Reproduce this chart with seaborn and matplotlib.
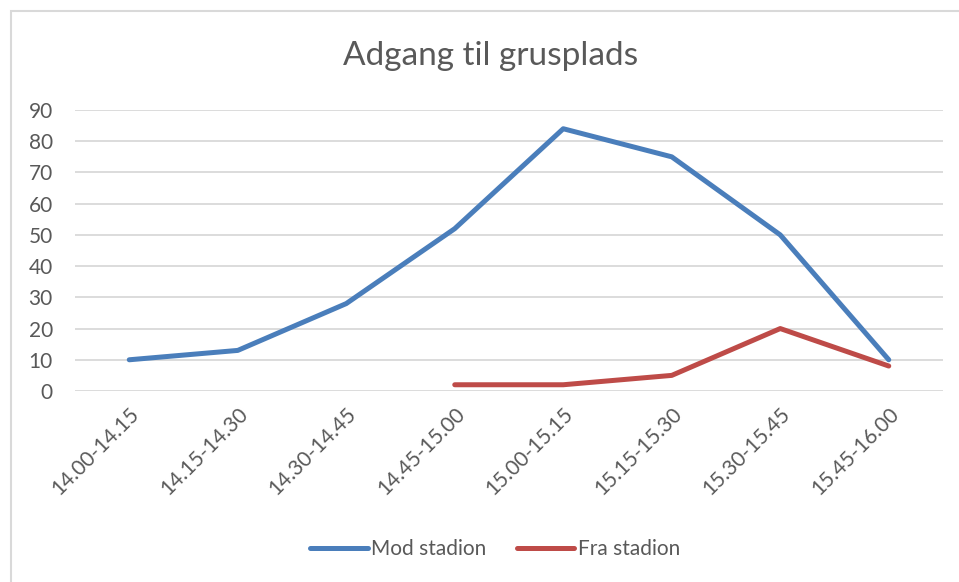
import matplotlib
matplotlib.use("Agg")
import matplotlib.pyplot as plt
import seaborn as sns
import numpy as np
import pandas as pd
from matplotlib.patches import Rectangle

# data
perioder = ["14.00-14.15", "14.15-14.30", "14.30-14.45", "14.45-15.00",
            "15.00-15.15", "15.15-15.30", "15.30-15.45", "15.45-16.00"]
mod_stadion = [10, 13, 28, 52, 84, 75, 50, 10]
fra_stadion = [np.nan, np.nan, np.nan, 2, 2, 5, 20, 8]
serier = ["Mod stadion", "Fra stadion"]
farver = ["#4a7ebb", "#be4b48"]
yticks = list(range(0, 100, 10))

df = pd.DataFrame({
    "periode": perioder * 2,
    "antal": mod_stadion + fra_stadion,
    "serie": [serier[0]] * len(perioder) + [serier[1]] * len(perioder),
})
df = df.dropna()

sns.set_style("white")
plt.rcParams["font.family"] = ["Lato", "DejaVu Sans"]
grå = "#595959"

fig = plt.figure(figsize=(9.59, 5.82), dpi=100)
ax = fig.add_axes([75 / 959, 1 - 391 / 582, (943 - 75) / 959, (391 - 110) / 582])

sns.lineplot(data=df, x="periode", y="antal", hue="serie", hue_order=serier,
             palette=farver, linewidth=3.6, sort=False, ax=ax,
             solid_capstyle="round", legend=False)

ax.set_xlim(-0.5, len(perioder) - 0.5)
ax.set_ylim(0, 90)
ax.set_yticks(yticks)
ax.set_yticklabels([str(v) for v in yticks], color=grå, fontsize=15)
ax.set_xticks(range(len(perioder)))
ax.set_xticklabels(perioder, rotation=45, ha="right", rotation_mode="anchor",
                   color=grå, fontsize=15)
ax.tick_params(axis="x", length=0, pad=9)
ax.tick_params(axis="y", length=0, pad=16)
ax.grid(axis="y", color="#d9d9d9", linewidth=1.3)
ax.set_axisbelow(True)
for s in ax.spines.values():
    s.set_visible(False)
ax.set_xlabel("")
ax.set_ylabel("")

fig.text(491 / 959, 1 - 65 / 582, "Adgang til grusplads", ha="center", va="baseline",
         fontsize=24, color=grå)

handles = [plt.Line2D([], [], color=c, linewidth=3.6) for c in farver]
fig.legend(handles, serier, loc="center", bbox_to_anchor=(495 / 959, 1 - 549 / 582),
           ncol=2, frameon=False, fontsize=15, handlelength=2.75, handletextpad=0.15,
           columnspacing=1.5, labelcolor=grå)

fig.patches.append(Rectangle((11 / 959, -0.05), 1.1, 1 - 11 / 582 + 0.05,
                             transform=fig.transFigure, fill=False,
                             edgecolor="#d9d9d9", linewidth=1.5))

fig.savefig("out.png", dpi=100)
